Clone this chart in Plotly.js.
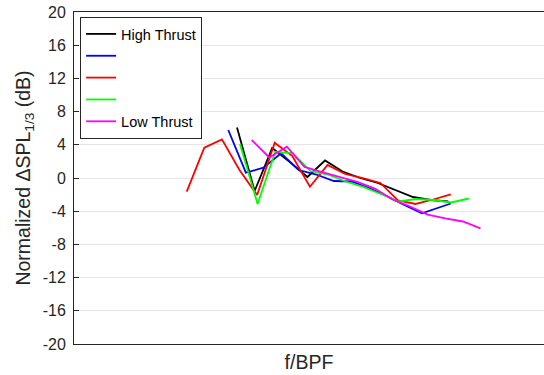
<!DOCTYPE html>
<html>
<head>
<meta charset="utf-8">
<script src="https://cdn.plot.ly/plotly-3.0.1.min.js"></script>
<style>
  html, body { margin: 0; padding: 0; background: #fff; }
  #chart { width: 544px; height: 375px; }
</style>
</head>
<body>
<div id="chart"></div>
<script>
// Normalized one-third-octave SPL change versus frequency / blade passing frequency,
// one curve per thrust setting (high thrust -> low thrust).
const seriesNames = ["High Thrust", "", "", "", "Low Thrust"];
const seriesColors = ["#000000", "#0000ff", "#ff0000", "#00ff00", "#ff00ff"];

// f/BPF band centres for each thrust setting
const fHigh = [1.000, 1.259, 1.585, 1.995, 2.512, 3.162, 3.981, 5.012, 6.310, 7.943, 10.00, 12.59, 15.85];
const fMidHigh = [0.892, 1.123, 1.414, 1.780, 2.241, 2.821, 3.552, 4.471, 5.629, 7.087, 8.922, 11.23, 16.40];
const fMid = [0.518, 0.652, 0.821, 1.033, 1.301, 1.638, 2.062, 2.596, 3.268, 4.114, 5.180, 6.521, 8.209, 10.33, 13.01, 16.38];
const fMidLow = [1.040, 1.309, 1.648, 2.075, 2.612, 3.289, 4.140, 5.212, 6.562, 8.261, 10.40, 13.09, 16.48, 20.75];
const fLow = [1.212, 1.526, 1.921, 2.418, 3.044, 3.832, 4.824, 6.073, 7.645, 9.625, 12.12, 15.26, 19.21, 24.18];

// Normalized delta SPL (dB)
const splHigh = [6.08, -1.57, 3.61, 1.93, 0.12, 2.11, 0.78, 0.00, -0.60, -1.45, -2.29, -2.65, -2.83];
const splMidHigh = [5.78, 0.64, 1.24, 2.98, 0.96, 0.42, -0.36, -0.42, -1.20, -2.17, -3.25, -4.25, -3.07];
const splMid = [-1.65, 3.65, 4.66, 0.96, -2.05, 4.25, 2.65, -1.05, 1.57, 0.48, 0.00, -0.60, -2.71, -3.13, -2.59, -1.96];
const splMidLow = [4.10, -3.13, 3.13, 3.01, 0.84, 0.42, -0.42, -1.08, -1.93, -2.83, -2.53, -2.65, -2.95, -2.47];
const splLow = [4.58, 2.47, 3.77, 1.33, 0.72, 0.16, -0.48, -1.27, -2.59, -3.43, -4.40, -4.86, -5.24, -6.06];

const yTicks = [-20, -16, -12, -8, -4, 0, 4, 8, 12, 16, 20];

const xs = [fHigh, fMidHigh, fMid, fMidLow, fLow];
const ys = [splHigh, splMidHigh, splMid, splMidLow, splLow];

const font = "'Liberation Sans', Arial, Helvetica, sans-serif";
const axisColor = "#262626";

const traces = xs.map((x, i) => ({
  x: x,
  y: ys[i],
  type: "scatter",
  mode: "lines",
  name: seriesNames[i],
  line: { color: seriesColors[i], width: 1.8 }
}));

const layout = {
  width: 544,
  height: 375,
  margin: { l: 74, r: 0, t: 12, b: 31 },
  paper_bgcolor: "#ffffff",
  plot_bgcolor: "#ffffff",
  font: { family: font, size: 16, color: axisColor },
  showlegend: true,
  legend: {
    x: 0.013, y: 0.985, xanchor: "left", yanchor: "top",
    bgcolor: "#ffffff",
    bordercolor: axisColor,
    borderwidth: 1,
    font: { family: font, size: 14.5, color: "#000000" },
    tracegroupgap: 0
  },
  xaxis: {
    type: "log",
    range: [-0.926, 1.744],
    showticklabels: false,
    ticks: "",
    showgrid: false,
    zeroline: false,
    showline: true,
    linecolor: axisColor,
    linewidth: 1,
    mirror: true,
    title: { text: "f/BPF", font: { family: font, size: 19.5, color: axisColor }, standoff: 11 }
  },
  yaxis: {
    range: [-20, 20],
    tickvals: yTicks,
    ticktext: yTicks.map(String),
    ticks: "inside",
    ticklen: 5,
    tickcolor: axisColor,
    tickfont: { family: font, size: 16, color: axisColor },
    ticklabelstandoff: 4,
    showgrid: true,
    gridcolor: "#e6e6e6",
    gridwidth: 1,
    zeroline: false,
    showline: true,
    linecolor: axisColor,
    linewidth: 1,
    title: { text: "Normalized \u0394SPL<sub>1/3</sub> (dB)", font: { family: font, size: 19.5, color: axisColor }, standoff: 6 }
  }
};

Plotly.newPlot("chart", traces, layout, { displayModeBar: false, staticPlot: true });
</script>
</body>
</html>
